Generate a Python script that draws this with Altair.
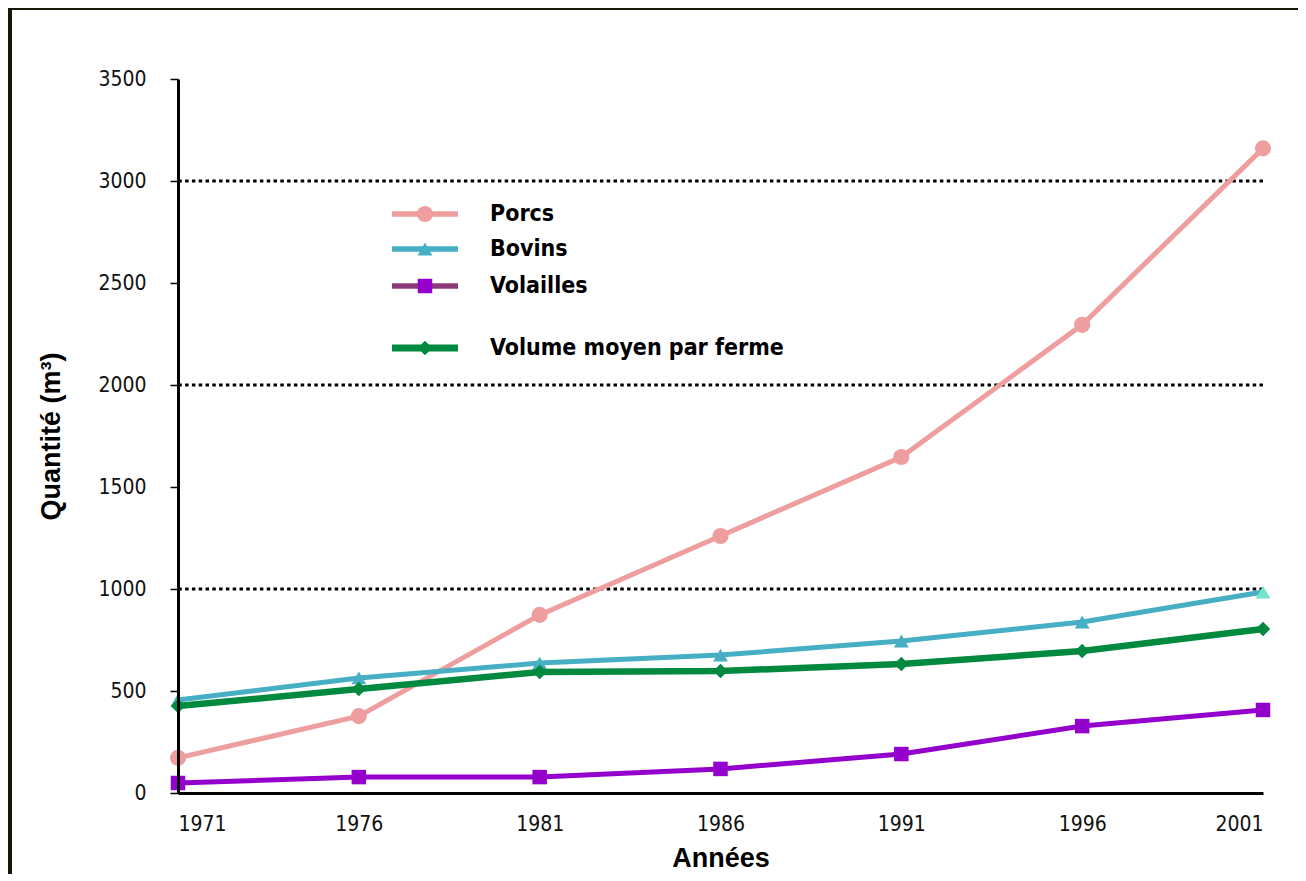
import altair as alt
import pandas as pd

# ---- data ----
years = [1971, 1976, 1981, 1986, 1991, 1996, 2001]
porcs = [172, 377, 873, 1260, 1647, 2295, 3160]
bovins = [456, 564, 637, 676, 745, 838, 985]
volailles = [49, 78, 78, 118, 191, 328, 407]
volume = [426, 510, 593, 598, 632, 696, 804]

series_names = ["Porcs", "Bovins", "Volailles", "Volume moyen par ferme"]
series_values = [porcs, bovins, volailles, volume]
grid_values = [1000, 2000, 3000]
y_ticks = [0, 500, 1000, 1500, 2000, 2500, 3000, 3500]

rows = []
for name, vals in zip(series_names, series_values):
    for yr, v in zip(years, vals):
        rows.append({"series": name, "year": yr, "value": v})
df = pd.DataFrame(rows)

# ---- styles ----
line_colors = {"Porcs": "#EE9E9E", "Bovins": "#46AFC3",
               "Volailles": "#9400CC", "Volume moyen par ferme": "#00893F"}
legend_line_colors = {"Porcs": "#EE9E9E", "Bovins": "#46AFC3",
                      "Volailles": "#8B3A7A", "Volume moyen par ferme": "#00893F"}
shapes = {"Porcs": "circle", "Bovins": "triangle-up",
          "Volailles": "square", "Volume moyen par ferme": "diamond"}
sizes = {"Porcs": 260, "Bovins": 220, "Volailles": 210, "Volume moyen par ferme": 210}
widths = {"Porcs": 5, "Bovins": 5, "Volailles": 5, "Volume moyen par ferme": 6.5}
FRAME = "#121A05"

NARROW = "'Liberation Sans Narrow', 'DejaVu Sans Condensed', 'Liberation Sans', sans-serif"
BOLD = "'Liberation Sans', Arial, sans-serif"

x_enc = alt.X("year:Q",
              scale=alt.Scale(domain=[1971, 2001], nice=False, zero=False),
              axis=alt.Axis(values=years, format="d", title="Années",
                            labelFont=NARROW, labelFontSize=21, labelColor="#111",
                            labelPadding=20, ticks=False,
                            domainColor="black", domainWidth=3,
                            titleFont=BOLD, titleFontWeight="bold", titleFontSize=27,
                            titleColor="black", titlePadding=11, grid=False, zindex=1))
y_enc = alt.Y("value:Q",
              scale=alt.Scale(domain=[0, 3500], nice=False),
              axis=alt.Axis(values=y_ticks, format="d", title="Quantité (m³)",
                            labelFont=NARROW, labelFontSize=21, labelColor="#111",
                            labelPadding=24, tickSize=8, tickColor="black", tickWidth=1.5,
                            domainColor="black", domainWidth=3,
                            titleFont=BOLD, titleFontWeight="bold", titleFontSize=27,
                            titleColor="black", titlePadding=32, grid=False, zindex=1))

one = pd.DataFrame({"a": [0]})

# dark frame strips along the top and left edges of the picture
frame_top = alt.Chart(one).mark_rect(color=FRAME, clip=False).encode(
    x=alt.value(-170), x2=alt.value(1120), y=alt.value(-71), y2=alt.value(-69))
frame_left = alt.Chart(one).mark_rect(color=FRAME, clip=False).encode(
    x=alt.value(-170), x2=alt.value(-166), y=alt.value(-71), y2=alt.value(795))

grid = alt.Chart(pd.DataFrame({"value": grid_values})).mark_rule(
    color="black", strokeWidth=3, strokeDash=[3.5, 3.3]).encode(y=y_enc)

layers = [frame_top, frame_left, grid]
for name in series_names:
    sub = df[df["series"] == name]
    base = alt.Chart(sub).encode(x=x_enc, y=y_enc)
    layers.append(base.mark_line(color=line_colors[name], strokeWidth=widths[name]))
    if name == "Bovins":
        pt_color = alt.condition(alt.datum.year == 2001, alt.value("#72E6C8"),
                                 alt.value(line_colors[name]))
        layers.append(base.mark_point(filled=True, opacity=1, shape=shapes[name],
                                      size=sizes[name]).encode(color=pt_color))
    else:
        layers.append(base.mark_point(filled=True, opacity=1, shape=shapes[name],
                                      size=sizes[name], color=line_colors[name]))

# manual legend
legend_rows = [135, 170, 207, 269]
for name, ry in zip(series_names, legend_rows):
    layers.append(alt.Chart(one).mark_rule(color=legend_line_colors[name],
                                           strokeWidth=widths[name] + 0.5).encode(
        x=alt.value(214), x2=alt.value(280), y=alt.value(ry)))
    layers.append(alt.Chart(one).mark_point(filled=True, opacity=1, shape=shapes[name],
                                            size=sizes[name],
                                            color=line_colors[name]).encode(
        x=alt.value(247), y=alt.value(ry)))
    layers.append(alt.Chart(one).mark_text(align="left", baseline="middle", font=NARROW,
                                           fontWeight="bold", fontSize=23,
                                           color="black").encode(
        x=alt.value(312), y=alt.value(ry), text=alt.value(name)))

chart = alt.layer(*layers).properties(
    width=1085, height=714,
    padding={"left": 170, "top": 71, "right": 35, "bottom": 81},
    autosize=alt.AutoSizeParams(type="none"),
    background="white",
).configure_view(stroke=None)

chart.save("out.html", embed_options={"renderer": "svg", "actions": False})
